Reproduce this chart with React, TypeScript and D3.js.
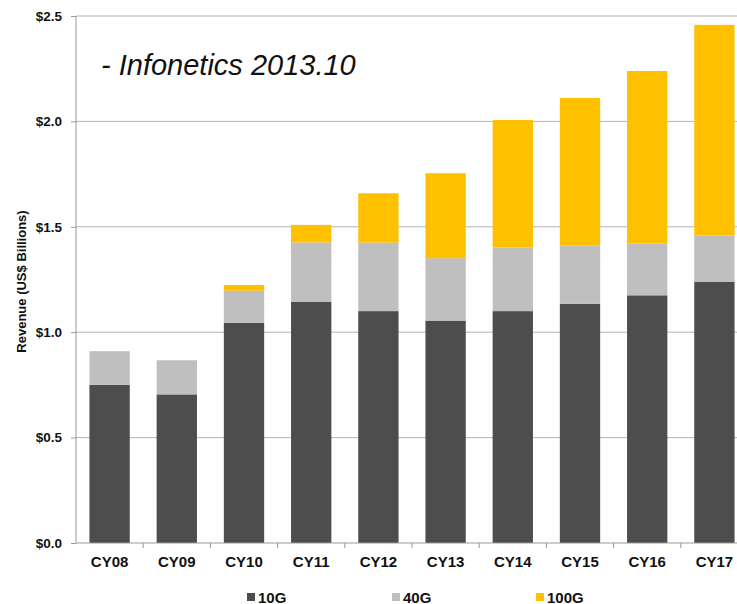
import { useEffect, useRef } from "react";
import * as d3 from "d3";

const years = ["CY08", "CY09", "CY10", "CY11", "CY12", "CY13", "CY14", "CY15", "CY16", "CY17"];
const tenG = [0.75, 0.705, 1.045, 1.145, 1.1, 1.055, 1.1, 1.135, 1.175, 1.24];
const fortyG = [0.16, 0.162, 0.152, 0.281, 0.325, 0.296, 0.301, 0.276, 0.245, 0.218];
const hundredG = [0, 0, 0.027, 0.083, 0.234, 0.403, 0.606, 0.7, 0.819, 1.0];
const yTicks = [0, 0.5, 1.0, 1.5, 2.0, 2.5];
const seriesKeys = ["10G", "40G", "100G"];
const colors: Record<string, string> = { "10G": "#4d4d4d", "40G": "#bfbfbf", "100G": "#ffc000" };

const W = 737;
const H = 604;

export default function App() {
  const svgRef = useRef<SVGSVGElement>(null);

  useEffect(() => {
    const svg = d3.select(svgRef.current);
    svg.selectAll("*").remove();

    const left = 76, right = 748, top = 16, bottom = 543;

    const data = years.map((y, i) => ({ year: y, "10G": tenG[i], "40G": fortyG[i], "100G": hundredG[i] }));
    const layers = d3.stack<any>().keys(seriesKeys)(data);

    const x = d3.scaleBand().domain(years).range([left, right]).paddingInner(0.4).paddingOuter(0.2);
    const y = d3.scaleLinear().domain([0, 2.5]).range([bottom, top]);

    const font = "'Liberation Sans', Arial, sans-serif";

    // grid
    svg.append("g")
      .selectAll("line")
      .data(yTicks.filter(t => t > 0))
      .join("line")
      .attr("x1", left).attr("x2", W)
      .attr("y1", d => y(d)).attr("y2", d => y(d))
      .attr("stroke", "#b3b3b3").attr("stroke-width", 1);

    // bars
    svg.append("g")
      .selectAll("g")
      .data(layers)
      .join("g")
      .attr("fill", l => colors[l.key])
      .selectAll("rect")
      .data(l => l)
      .join("rect")
      .attr("x", d => x(d.data.year)!)
      .attr("width", x.bandwidth())
      .attr("y", d => y(d[1]))
      .attr("height", d => y(d[0]) - y(d[1]));

    // y axis
    const yAxis = svg.append("g")
      .attr("transform", `translate(${left},0)`)
      .call(d3.axisLeft(y).tickValues(yTicks).tickSize(5).tickPadding(9).tickFormat(d => "$" + d3.format(".1f")(d as number)));
    yAxis.select(".domain").attr("stroke", "#999").attr("d", `M0,${top}V${bottom}`);
    yAxis.selectAll(".tick line").attr("stroke", "#999");
    yAxis.selectAll("text").attr("font-family", font).attr("font-weight", "bold").attr("font-size", 13.5).attr("fill", "#111");

    // x axis
    const xAxis = svg.append("g")
      .attr("transform", `translate(0,${bottom})`)
      .call(d3.axisBottom(x).tickSize(0).tickPadding(13));
    xAxis.select(".domain").attr("stroke", "#999").attr("d", `M${left},0H${W}`);
    xAxis.selectAll("text").attr("font-family", font).attr("font-weight", "bold").attr("font-size", 15).attr("fill", "#111");
    xAxis.append("g")
      .selectAll("line")
      .data(years.slice(1))
      .join("line")
      .attr("x1", d => x(d)! - (x.step() - x.bandwidth()) / 2)
      .attr("x2", d => x(d)! - (x.step() - x.bandwidth()) / 2)
      .attr("y1", 0).attr("y2", 5)
      .attr("stroke", "#999");

    // y label
    svg.append("text")
      .attr("transform", `translate(26,${(top + bottom) / 2 + 2}) rotate(-90)`)
      .attr("text-anchor", "middle")
      .attr("font-family", font).attr("font-weight", "bold").attr("font-size", 13).attr("fill", "#111")
      .text("Revenue (US$ Billions)");

    // annotation
    svg.append("text")
      .attr("x", 101).attr("y", 75)
      .attr("font-family", font).attr("font-style", "italic").attr("font-size", 29).attr("fill", "#111")
      .text("- Infonetics 2013.10");

    // legend
    const legendX = [247, 392, 536];
    const legend = svg.append("g")
      .selectAll("g")
      .data(seriesKeys)
      .join("g")
      .attr("transform", (d, i) => `translate(${legendX[i]},593)`);
    legend.append("rect").attr("width", 8).attr("height", 8).attr("fill", d => colors[d]);
    legend.append("text")
      .attr("x", 11).attr("y", 9.5)
      .attr("font-family", font).attr("font-weight", "bold").attr("font-size", 15).attr("fill", "#111")
      .text(d => d);
  }, []);

  return (
    <svg ref={svgRef} width={W} height={H} style={{ position: "absolute", left: 0, top: 0, background: "#fff" }} />
  );
}
